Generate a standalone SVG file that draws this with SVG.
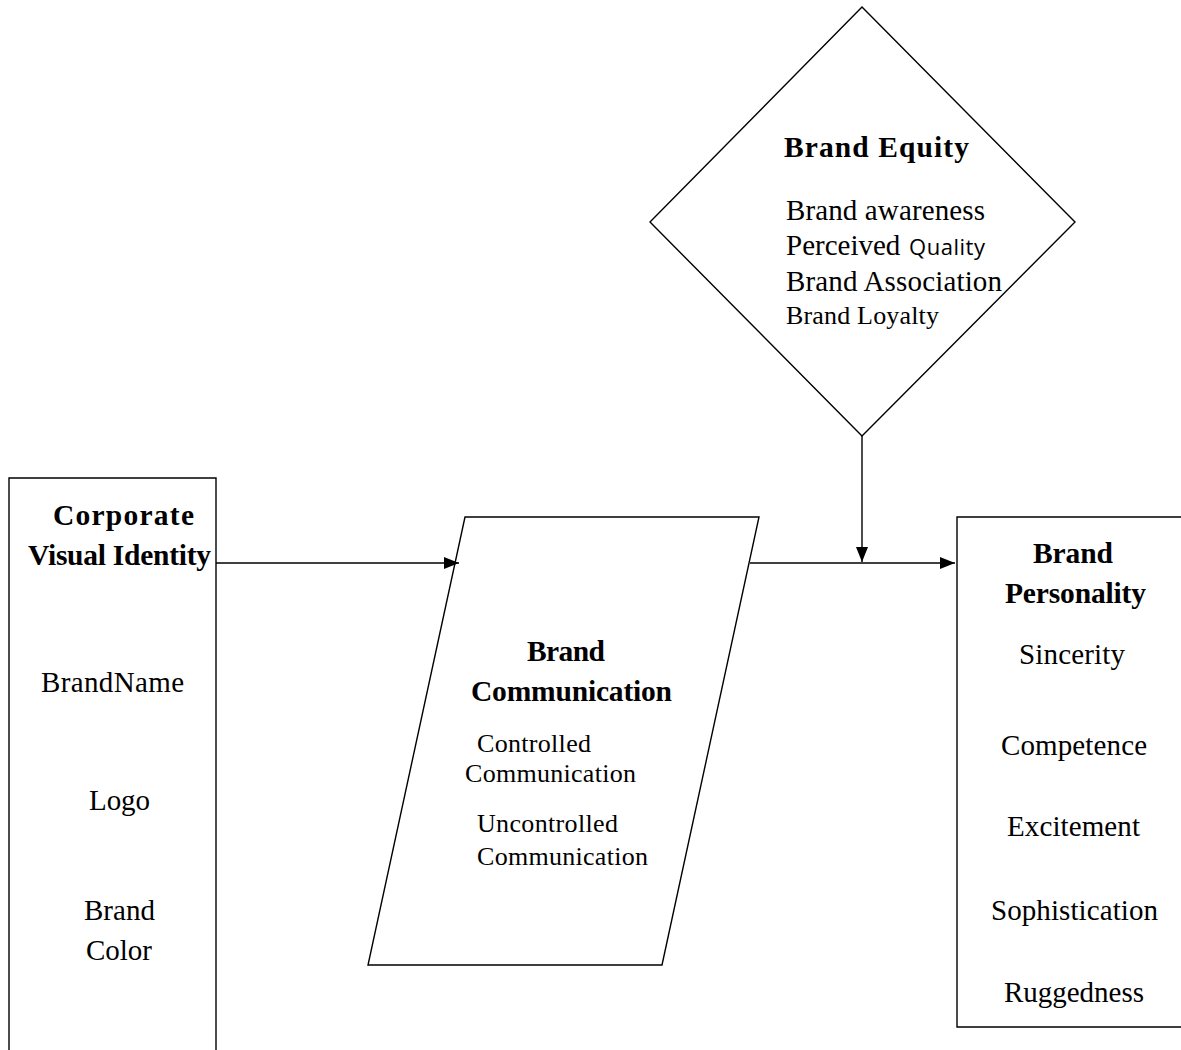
<svg xmlns="http://www.w3.org/2000/svg" width="1181" height="1050" viewBox="0 0 1181 1050" font-family="'Liberation Serif', 'Times New Roman', Tinos, serif">
  <style>
    .shape { fill: #ffffff; stroke: #000000; stroke-width: 1.4; }
    .link { fill: none; stroke: #000000; stroke-width: 1.4; }
    text { fill: #000000; }
    .title { font-weight: bold; font-size: 29.5px; }
    .item { font-size: 29px; }
    .small { font-size: 26px; }
    .sans { font-family: "Open Sans", "Liberation Sans", sans-serif; font-size: 22px; }
  </style>
  <defs>
    <marker id="arrow" viewBox="0 0 15 12" refX="15" refY="6" markerWidth="15" markerHeight="12" markerUnits="userSpaceOnUse" orient="auto">
      <path d="M0,0 L15,6 L0,12 Z" fill="#000000"/>
    </marker>
  </defs>
  <rect width="1181" height="1050" fill="#ffffff"/>

  <!-- Brand Equity diamond -->
  <g id="brand-equity">
    <polygon class="shape" points="862,7 1075,222 862,436 650,222"/>
    <text class="title" x="784" y="157" textLength="185" lengthAdjust="spacing">Brand Equity</text>
    <text class="item" x="786" y="220" textLength="199" lengthAdjust="spacing">Brand awareness</text>
    <text class="item" x="786" y="255">Perceived <tspan class="sans" x="909" textLength="76" lengthAdjust="spacing">Quality</tspan></text>
    <text class="item" x="786" y="291" textLength="216" lengthAdjust="spacing">Brand Association</text>
    <text class="small" x="786" y="324" textLength="153" lengthAdjust="spacing">Brand Loyalty</text>
  </g>

  <!-- Corporate Visual Identity box (continues past the bottom edge) -->
  <g id="corporate-visual-identity">
    <polyline class="shape" points="9,1060 9,478 216,478 216,1060"/>
    <text class="title" x="53" y="525" textLength="141" lengthAdjust="spacing">Corporate</text>
    <text class="title" x="28" y="565" textLength="183" lengthAdjust="spacing">Visual Identity</text>
    <text class="item" x="41" y="692" textLength="143" lengthAdjust="spacing">BrandName</text>
    <text class="item" x="89" y="810" textLength="61" lengthAdjust="spacing">Logo</text>
    <text class="item" x="84" y="920" textLength="71" lengthAdjust="spacing">Brand</text>
    <text class="item" x="86" y="960" textLength="66" lengthAdjust="spacing">Color</text>
  </g>

  <!-- Brand Communication parallelogram -->
  <g id="brand-communication">
    <polygon class="shape" points="465,517 759,517 662,965 368,965"/>
    <text class="title" x="527" y="661" textLength="78" lengthAdjust="spacing">Brand</text>
    <text class="title" x="471" y="701" textLength="201" lengthAdjust="spacing">Communication</text>
    <text class="small" x="477" y="752" textLength="114" lengthAdjust="spacing">Controlled</text>
    <text class="small" x="465" y="782" textLength="171" lengthAdjust="spacing">Communication</text>
    <text class="small" x="477" y="832" textLength="141" lengthAdjust="spacing">Uncontrolled</text>
    <text class="small" x="477" y="865" textLength="171" lengthAdjust="spacing">Communication</text>
  </g>

  <!-- Brand Personality box (runs off the right edge) -->
  <g id="brand-personality">
    <polyline class="shape" points="1190,517 957,517 957,1027 1190,1027"/>
    <text class="title" x="1033" y="563" textLength="80" lengthAdjust="spacing">Brand</text>
    <text class="title" x="1005" y="603" textLength="141" lengthAdjust="spacing">Personality</text>
    <text class="item" x="1019" y="664" textLength="106" lengthAdjust="spacing">Sincerity</text>
    <text class="item" x="1001" y="755" textLength="146" lengthAdjust="spacing">Competence</text>
    <text class="item" x="1007" y="836" textLength="133" lengthAdjust="spacing">Excitement</text>
    <text class="item" x="991" y="920" textLength="167" lengthAdjust="spacing">Sophistication</text>
    <text class="item" x="1004" y="1002" textLength="140" lengthAdjust="spacing">Ruggedness</text>
  </g>

  <!-- Connectors -->
  <g id="connectors">
    <line class="link" x1="216" y1="563" x2="459" y2="563" marker-end="url(#arrow)"/>
    <line class="link" x1="750" y1="563" x2="955" y2="563" marker-end="url(#arrow)"/>
    <line class="link" x1="862" y1="436" x2="862" y2="562" marker-end="url(#arrow)"/>
  </g>
</svg>
